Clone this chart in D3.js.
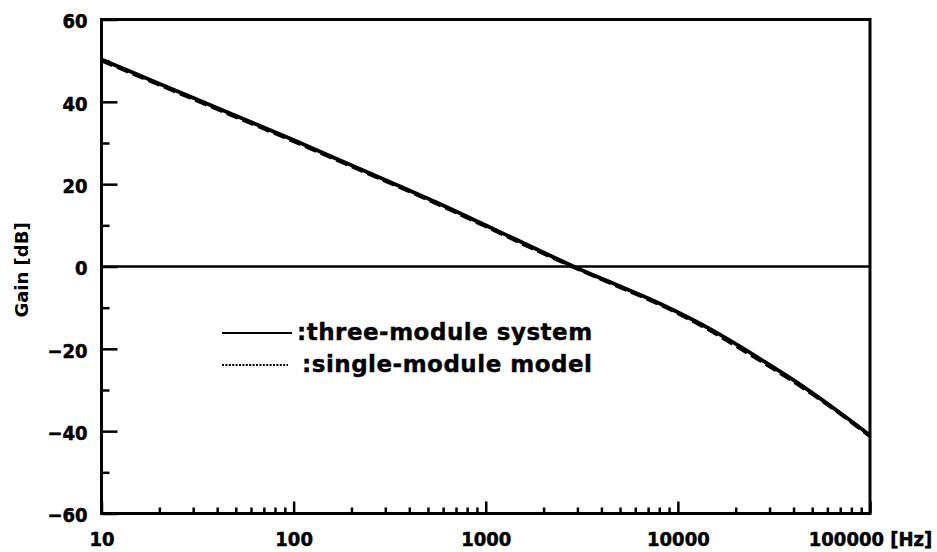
<!DOCTYPE html>
<html>
<head>
<meta charset="utf-8">
<script src="https://cdn.jsdelivr.net/npm/d3@7"></script>
<style>
  html, body { margin: 0; padding: 0; background: #fff; }
  svg { display: block; }
  .tick text { font-family: "DejaVu Sans Condensed", "DejaVu Sans", sans-serif; font-weight: bold; font-size: 20px; fill: #000; stroke: #000; stroke-width: 0.5px; }
</style>
</head>
<body>
<svg id="chart" width="937" height="552"></svg>
<script>
// Frequency points (Hz)
const freqs = [10, 20, 50, 100, 200, 500, 1000, 2000, 3000, 5000, 7000, 10000, 15000, 20000, 30000, 40000, 50000, 70000, 100000];
// Loop gain of the three-module system (dB)
const threeModule = [50.3, 44.4, 36.6, 30.7, 24.6, 16.5, 10.0, 3.4, -0.4, -4.8, -7.7, -11.1, -15.4, -18.8, -23.9, -27.6, -30.7, -35.6, -41.0];
// Loop gain of the single-module model (dB)
const singleModule = [50.0, 44.1, 36.3, 30.4, 24.3, 16.2, 9.7, 3.1, -0.6, -5.1, -8.0, -11.4, -15.8, -19.3, -24.3, -28.0, -31.0, -35.8, -41.3];

const yMajorTicks = [-60, -40, -20, 0, 20, 40, 60];
const yMinorTicks = [-50, -30, -10, 10, 30, 50];
const xMajorTicks = [10, 100, 1000, 10000, 100000];
const xTickLabels = ["10", "100", "1000", "10000", "100000 [Hz]"];
const legendLabels = [":three-module system", ":single-module model"];

const svg = d3.select("#chart");
const plotLeft = 101.5, plotRight = 870, plotTop = 19.5, plotBottom = 513.5;

const x = d3.scaleLog().domain([10, 100000]).range([plotLeft, plotRight]);
const y = d3.scaleLinear().domain([-60, 60]).range([plotBottom, plotTop]);

const xMinorTicks = [];
[10, 100, 1000, 10000].forEach(d => { for (let k = 2; k <= 9; k++) xMinorTicks.push(d * k); });

// Y axis: major ticks with labels, minor ticks without
const yAxisMajor = svg.append("g").attr("transform", `translate(${plotLeft},0)`)
  .call(d3.axisLeft(y).tickValues(yMajorTicks).tickSize(-16).tickPadding(14).tickFormat(d3.format("d")));
yAxisMajor.selectAll(".tick text").attr("dy", "0.42em");
svg.append("g").attr("transform", `translate(${plotLeft},0)`)
  .call(d3.axisLeft(y).tickValues(yMinorTicks).tickSize(-8).tickFormat(""));

// X axis: decade ticks with labels, minor ticks without
svg.append("g").attr("transform", `translate(0,${plotBottom})`)
  .call(d3.axisBottom(x).tickValues(xMajorTicks).tickSize(-12).tickPadding(18)
    .tickFormat((d, i) => xTickLabels[i]));
svg.append("g").attr("transform", `translate(0,${plotBottom})`)
  .call(d3.axisBottom(x).tickValues(xMinorTicks).tickSize(-6).tickFormat(""));

svg.selectAll(".domain").remove();
svg.selectAll(".tick line").attr("stroke", "#000").attr("stroke-width", 2.5);

// Zero-gain reference line
svg.append("line")
  .attr("x1", plotLeft).attr("x2", plotRight)
  .attr("y1", y(0)).attr("y2", y(0))
  .attr("stroke", "#000").attr("stroke-width", 2.4);

// Gain curves
const line = d3.line().x(d => x(d[0])).y(d => y(d[1])).curve(d3.curveMonotoneX);
svg.append("path")
  .datum(freqs.map((f, i) => [f, threeModule[i]]))
  .attr("fill", "none").attr("stroke", "#000").attr("stroke-width", 3.8)
  .attr("d", line);
svg.append("path")
  .datum(freqs.map((f, i) => [f, singleModule[i]]))
  .attr("fill", "none").attr("stroke", "#000").attr("stroke-width", 3.4)
  .attr("stroke-dasharray", "12,5")
  .attr("d", line);

// Plot frame
svg.append("rect")
  .attr("x", plotLeft).attr("y", plotTop)
  .attr("width", plotRight - plotLeft).attr("height", plotBottom - plotTop)
  .attr("fill", "none").attr("stroke", "#000").attr("stroke-width", 3);

// Y axis title
svg.append("text")
  .attr("transform", "translate(28,270) rotate(-90)")
  .attr("text-anchor", "middle")
  .style("font-family", "'DejaVu Sans', sans-serif")
  .style("font-weight", "bold")
  .style("font-size", "18px")
  .text("Gain [dB]");

// Legend
const legend = svg.append("g");
legend.append("line")
  .attr("x1", 222).attr("x2", 292).attr("y1", 333).attr("y2", 333)
  .attr("stroke", "#000").attr("stroke-width", 2.2);
legend.append("line")
  .attr("x1", 222).attr("x2", 288).attr("y1", 365).attr("y2", 365)
  .attr("stroke", "#000").attr("stroke-width", 1.8).attr("stroke-dasharray", "2,1.4");
legend.selectAll("text.leg").data(legendLabels).join("text")
  .attr("class", "leg")
  .attr("x", (d, i) => i === 0 ? 297 : 302)
  .attr("y", (d, i) => i === 0 ? 340 : 372)
  .style("font-family", "'DejaVu Sans', sans-serif")
  .style("font-weight", "bold")
  .style("font-size", "23px")
  .style("letter-spacing", "0.5px")
  .style("stroke", "#000")
  .style("stroke-width", "0.4px")
  .text(d => d);
</script>
</body>
</html>
